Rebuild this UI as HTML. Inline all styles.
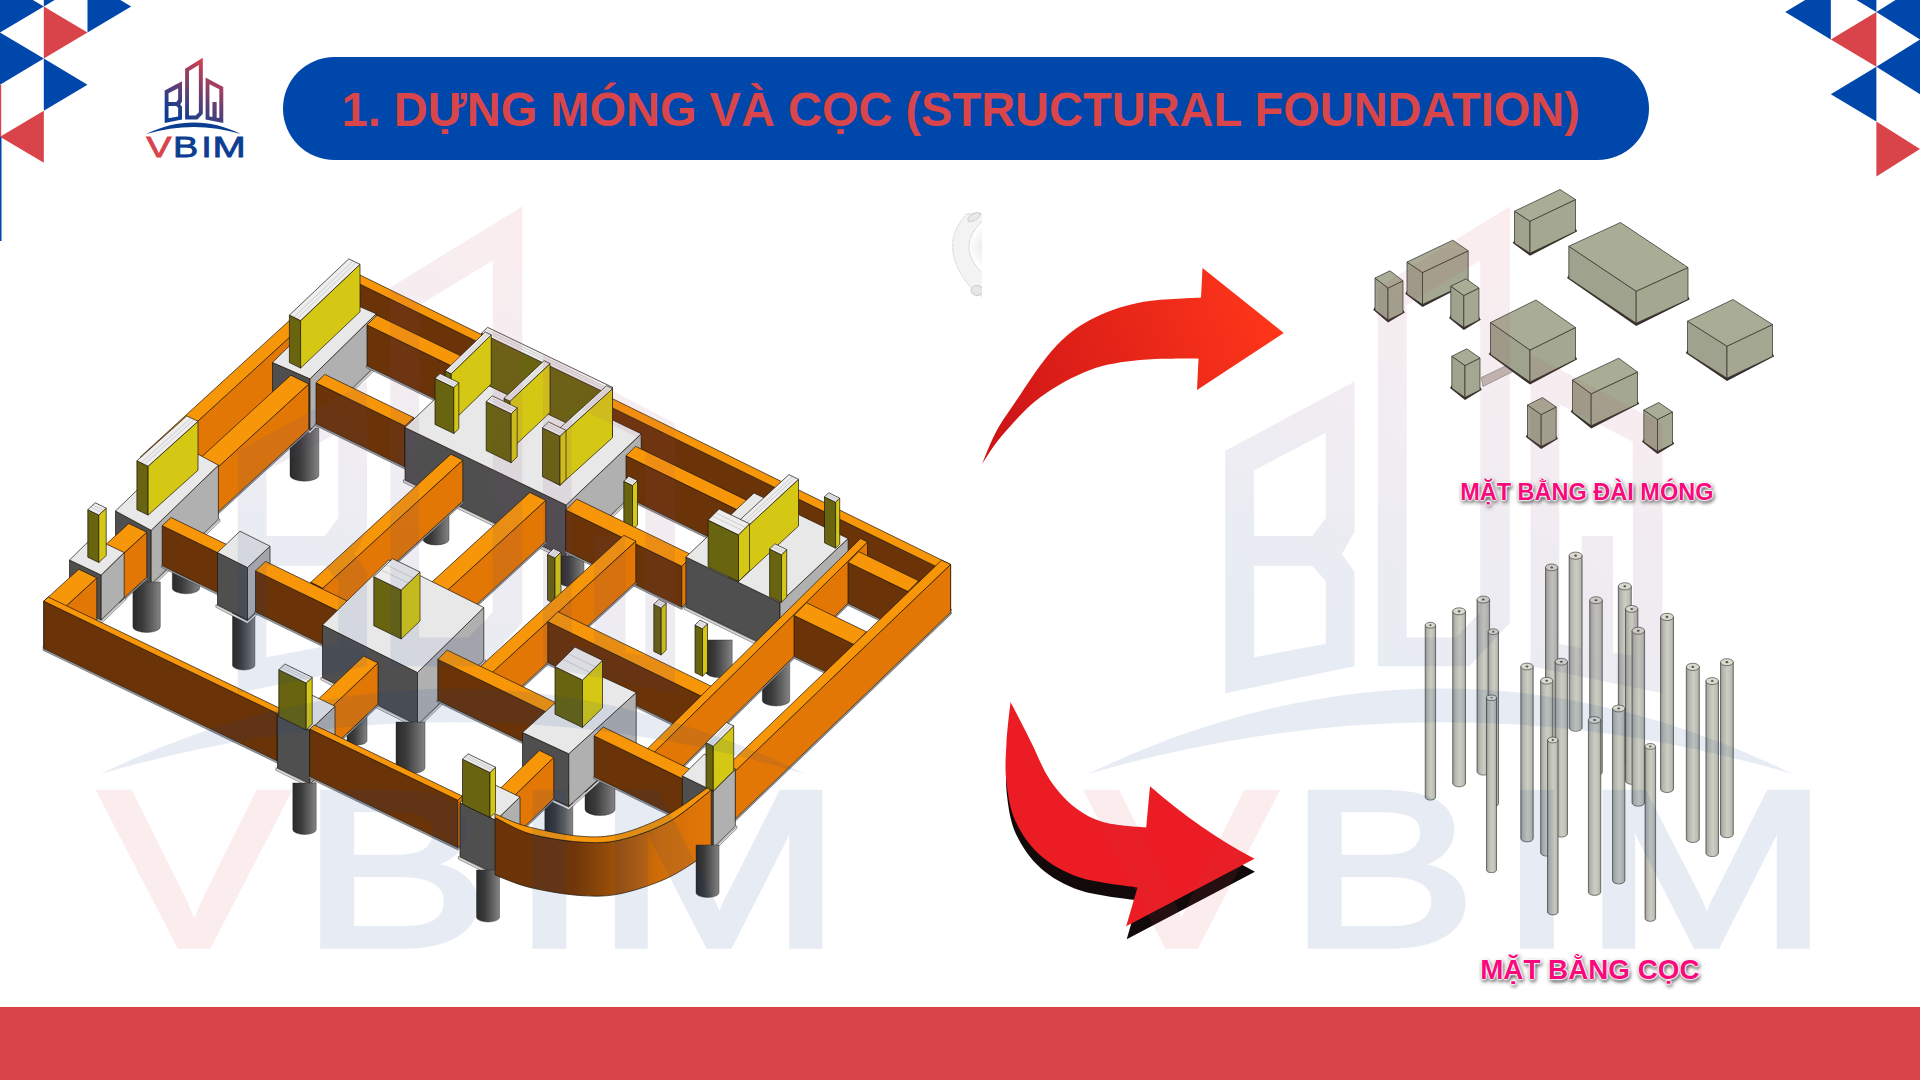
<!DOCTYPE html>
<html lang="vi"><head><meta charset="utf-8"><title>1. DỰNG MÓNG VÀ CỌC (STRUCTURAL FOUNDATION)</title>
<style>
html,body{margin:0;padding:0;background:#fff;}
body{width:1920px;height:1080px;overflow:hidden;position:relative;font-family:"Liberation Sans",sans-serif;}
svg{position:absolute;left:0;top:0;}
.title{position:absolute;left:283px;top:56.5px;width:1366px;height:103px;border-radius:51.5px;background:#0047AB;}
.title span{position:absolute;left:58.6px;top:1.5px;line-height:103px;font-weight:bold;font-size:47px;transform:scaleY(1.03);transform-origin:0 52px;color:#DA454A;white-space:nowrap;}
.footer{position:absolute;left:0;top:1007px;width:1920px;height:73px;background:#D9444A;}
.lbl{position:absolute;font-weight:bold;color:#F80A7C;white-space:nowrap;text-shadow:0 0 1.5px #fff,0 0 1.5px #fff,0 0 2px #fff,0 0 2px #fff,0 0 2.5px #fff,0 0 2.5px #fff,1px 1.5px 4px rgba(0,0,0,.75),1px 1.5px 4px rgba(0,0,0,.5);}
</style></head><body>

<svg width="1920" height="1080" viewBox="0 0 1920 1080">
<polygon points="0.0,-19.6 43.8,6.5 0.0,32.5" fill="#0047AB"/>
<polygon points="43.8,-45.6 87.5,-19.6 43.8,6.5" fill="#0047AB"/>
<polygon points="87.5,-19.6 131.2,6.5 87.5,32.5" fill="#0047AB"/>
<polygon points="43.8,6.5 87.5,32.5 43.8,58.6" fill="#D9444A"/>
<polygon points="0.0,32.5 43.8,58.6 0.0,84.7" fill="#0047AB"/>
<polygon points="43.8,58.6 87.5,84.7 43.8,110.7" fill="#0047AB"/>
<polygon points="43.8,110.7 0.0,136.8 43.8,162.8" fill="#D9444A"/>
<rect x="0" y="84.7" width="1.2" height="52.1" fill="#D9444A"/>
<rect x="0" y="136.8" width="1.5" height="104.2" fill="#0047AB"/>
<polygon points="1830.8,-15.4 1785.2,12.0 1830.8,39.4" fill="#0047AB"/>
<polygon points="1876.4,-42.8 1830.8,-15.4 1876.4,12.0" fill="#0047AB"/>
<polygon points="1920.0,-15.4 1876.4,12.0 1920.0,39.4" fill="#0047AB"/>
<polygon points="1876.4,12.0 1830.8,39.4 1876.4,66.8" fill="#D9444A"/>
<polygon points="1920.0,39.4 1876.4,66.8 1920.0,94.2" fill="#0047AB"/>
<polygon points="1876.4,66.8 1830.8,94.2 1876.4,121.6" fill="#0047AB"/>
<polygon points="1876.4,121.6 1920.0,149.0 1876.4,176.4" fill="#D9444A"/>
<g id="scene3d"><defs><linearGradient id="gpile" x1="0" y1="0" x2="1" y2="0"><stop offset="0" stop-color="#2a2a2a"/><stop offset="0.35" stop-color="#3b3b3b"/><stop offset="0.75" stop-color="#666"/><stop offset="1" stop-color="#858585"/></linearGradient></defs>
<polygon points="140.8,456.5 152.8,462.3 152.8,507.3 140.8,501.5" fill="#6B3408" stroke="#1c1408" stroke-width="0.7" stroke-linejoin="round"/>
<polygon points="152.8,462.3 355.8,276.6 355.8,321.6 152.8,507.3" fill="#E37706" stroke="#1c1408" stroke-width="0.7" stroke-linejoin="round"/>
<polygon points="140.8,456.5 343.8,270.7 355.8,276.6 152.8,462.3" fill="#F8960A" stroke="#1c1408" stroke-width="0.7" stroke-linejoin="round"/>
<polygon points="139.9,501.3 152.8,507.8 356.6,321.4 356.6,323.1 152.8,509.5 139.9,503.0" fill="#A8A8A8" stroke="#2a2a2a" stroke-width="0.45" stroke-linejoin="round"/>
<path d="M290.0 428.0 L290.0 475.2 A14.4 6.0 0 0 0 318.8 475.2 L318.8 428.0Z" fill="url(#gpile)" stroke="#222" stroke-width="0.4"/>
<path d="M423.0 505.0 L423.0 539.5 A13.0 5.5 0 0 0 449.0 539.5 L449.0 505.0Z" fill="url(#gpile)" stroke="#222" stroke-width="0.4"/>
<polygon points="337.2,273.0 944.1,570.4 944.1,615.4 337.2,318.0" fill="#6B3408" stroke="#1c1408" stroke-width="0.7" stroke-linejoin="round"/>
<polygon points="944.1,570.4 950.6,564.4 950.6,609.4 944.1,615.4" fill="#E37706" stroke="#1c1408" stroke-width="0.7" stroke-linejoin="round"/>
<polygon points="337.2,273.0 343.7,267.0 950.6,564.4 944.1,570.4" fill="#F8960A" stroke="#1c1408" stroke-width="0.7" stroke-linejoin="round"/>
<polygon points="336.4,317.8 944.1,615.9 951.4,609.2 951.4,610.9 944.1,617.6 336.4,319.5" fill="#A8A8A8" stroke="#2a2a2a" stroke-width="0.45" stroke-linejoin="round"/>
<polygon points="272.5,362.5 310.0,378.8 310.0,429.8 272.5,413.5" fill="#4F4F4F" stroke="#1c1408" stroke-width="0.7" stroke-linejoin="round"/>
<polygon points="310.0,378.8 376.2,313.8 376.2,364.8 310.0,429.8" fill="#B0B0B0" stroke="#1c1408" stroke-width="0.7" stroke-linejoin="round"/>
<polygon points="272.5,362.5 338.8,297.5 376.2,313.8 310.0,378.8" fill="#E8E8E8" stroke="#1c1408" stroke-width="0.7" stroke-linejoin="round"/>
<polygon points="270.9,413.2 310.0,430.7 377.9,364.4 377.9,367.0 310.0,433.3 270.9,415.8" fill="#DCDCDC" stroke="#2a2a2a" stroke-width="0.45" stroke-linejoin="round"/>
<polygon points="289.4,315.1 300.6,320.6 300.6,368.1 289.4,362.6" fill="#68640F" stroke="#1c1408" stroke-width="0.7" stroke-linejoin="round"/>
<polygon points="300.6,320.6 360.0,264.3 360.0,311.8 300.6,368.1" fill="#D4C815" stroke="#1c1408" stroke-width="0.7" stroke-linejoin="round"/>
<polygon points="289.4,315.1 348.8,258.9 360.0,264.3 300.6,320.6" fill="#EEEEEE" stroke="#1c1408" stroke-width="0.7" stroke-linejoin="round"/>
<line x1="293.6" y1="317.2" x2="353.0" y2="261.0" stroke="#9a9a9a" stroke-width="0.4"/>
<line x1="296.8" y1="318.7" x2="356.2" y2="262.5" stroke="#9a9a9a" stroke-width="0.4"/>
<polygon points="367.0,324.9 462.0,371.0 462.0,412.0 367.0,365.9" fill="#6B3408" stroke="#1c1408" stroke-width="0.7" stroke-linejoin="round"/>
<polygon points="462.0,371.0 472.0,361.3 472.0,402.3 462.0,412.0" fill="#E37706" stroke="#1c1408" stroke-width="0.7" stroke-linejoin="round"/>
<polygon points="367.0,324.9 377.0,315.3 472.0,361.3 462.0,371.0" fill="#F8960A" stroke="#1c1408" stroke-width="0.7" stroke-linejoin="round"/>
<polygon points="366.2,365.8 462.0,412.5 472.8,402.2 472.8,403.9 462.0,414.2 366.2,367.5" fill="#A8A8A8" stroke="#2a2a2a" stroke-width="0.45" stroke-linejoin="round"/>
<polygon points="197.8,460.3 215.8,469.1 215.8,514.1 197.8,505.3" fill="#6B3408" stroke="#1c1408" stroke-width="0.7" stroke-linejoin="round"/>
<polygon points="215.8,469.1 308.8,384.0 308.8,429.0 215.8,514.1" fill="#E37706" stroke="#1c1408" stroke-width="0.7" stroke-linejoin="round"/>
<polygon points="197.8,460.3 290.8,375.2 308.8,384.0 215.8,469.1" fill="#F8960A" stroke="#1c1408" stroke-width="0.7" stroke-linejoin="round"/>
<polygon points="196.9,505.2 215.8,514.6 309.6,428.8 309.6,430.5 215.8,516.3 196.9,506.9" fill="#A8A8A8" stroke="#2a2a2a" stroke-width="0.45" stroke-linejoin="round"/>
<polygon points="316.0,382.8 405.0,426.0 405.0,467.0 316.0,423.8" fill="#6B3408" stroke="#1c1408" stroke-width="0.7" stroke-linejoin="round"/>
<polygon points="405.0,426.0 413.8,417.6 413.8,458.6 405.0,467.0" fill="#E37706" stroke="#1c1408" stroke-width="0.7" stroke-linejoin="round"/>
<polygon points="316.0,382.8 324.8,374.4 413.8,417.6 405.0,426.0" fill="#F8960A" stroke="#1c1408" stroke-width="0.7" stroke-linejoin="round"/>
<polygon points="315.2,423.7 405.0,467.5 414.6,458.5 414.6,460.2 405.0,469.2 315.2,425.4" fill="#A8A8A8" stroke="#2a2a2a" stroke-width="0.45" stroke-linejoin="round"/>
<polygon points="115.5,511.0 151.2,530.3 151.2,584.3 115.5,565.0" fill="#4F4F4F" stroke="#1c1408" stroke-width="0.7" stroke-linejoin="round"/>
<polygon points="151.2,530.3 218.4,465.2 218.4,519.2 151.2,584.3" fill="#B0B0B0" stroke="#1c1408" stroke-width="0.7" stroke-linejoin="round"/>
<polygon points="115.5,511.0 182.7,445.9 218.4,465.2 151.2,530.3" fill="#E8E8E8" stroke="#1c1408" stroke-width="0.7" stroke-linejoin="round"/>
<polygon points="113.9,564.7 151.2,585.3 220.0,518.9 220.0,521.5 151.2,587.9 113.9,567.3" fill="#DCDCDC" stroke="#2a2a2a" stroke-width="0.45" stroke-linejoin="round"/>
<path d="M172.3 560.0 L172.3 588.0 A13.7 5.8 0 0 0 199.7 588.0 L199.7 560.0Z" fill="url(#gpile)" stroke="#222" stroke-width="0.4"/>
<polygon points="405.0,427.5 566.2,505.0 566.2,557.5 405.0,480.0" fill="#4F4F4F" stroke="#1c1408" stroke-width="0.7" stroke-linejoin="round"/>
<polygon points="566.2,505.0 641.2,433.8 641.2,486.2 566.2,557.5" fill="#B0B0B0" stroke="#1c1408" stroke-width="0.7" stroke-linejoin="round"/>
<polygon points="405.0,427.5 480.0,356.2 641.2,433.8 566.2,505.0" fill="#E8E8E8" stroke="#1c1408" stroke-width="0.7" stroke-linejoin="round"/>
<polygon points="403.4,479.7 566.2,558.5 642.9,485.9 642.9,488.5 566.2,561.1 403.4,482.3" fill="#DCDCDC" stroke="#2a2a2a" stroke-width="0.45" stroke-linejoin="round"/>
<polygon points="136.9,460.8 148.1,466.2 148.1,515.1 136.9,509.7" fill="#68640F" stroke="#1c1408" stroke-width="0.7" stroke-linejoin="round"/>
<polygon points="148.1,466.2 198.0,421.3 198.0,470.2 148.1,515.1" fill="#D4C815" stroke="#1c1408" stroke-width="0.7" stroke-linejoin="round"/>
<polygon points="136.9,460.8 186.8,415.9 198.0,421.3 148.1,466.2" fill="#EEEEEE" stroke="#1c1408" stroke-width="0.7" stroke-linejoin="round"/>
<line x1="141.2" y1="462.8" x2="191.1" y2="417.9" stroke="#9a9a9a" stroke-width="0.4"/>
<line x1="144.3" y1="464.4" x2="194.2" y2="419.4" stroke="#9a9a9a" stroke-width="0.4"/>
<polygon points="481.5,333.2 606.5,393.2 606.5,442.2 481.5,382.2" fill="#68640F" stroke="#1c1408" stroke-width="0.7" stroke-linejoin="round"/>
<polygon points="606.5,393.2 612.5,387.3 612.5,436.3 606.5,442.2" fill="#D4C815" stroke="#1c1408" stroke-width="0.7" stroke-linejoin="round"/>
<polygon points="481.5,333.2 487.5,327.3 612.5,387.3 606.5,393.2" fill="#EEEEEE" stroke="#1c1408" stroke-width="0.7" stroke-linejoin="round"/>
<line x1="483.8" y1="331.0" x2="608.8" y2="391.0" stroke="#9a9a9a" stroke-width="0.4"/>
<line x1="485.5" y1="329.3" x2="610.5" y2="389.3" stroke="#9a9a9a" stroke-width="0.4"/>
<polygon points="445.2,370.8 451.2,373.8 451.2,422.8 445.2,419.8" fill="#68640F" stroke="#1c1408" stroke-width="0.7" stroke-linejoin="round"/>
<polygon points="451.2,373.8 491.2,334.9 491.2,383.9 451.2,422.8" fill="#D4C815" stroke="#1c1408" stroke-width="0.7" stroke-linejoin="round"/>
<polygon points="445.2,370.8 485.2,332.0 491.2,334.9 451.2,373.8" fill="#EEEEEE" stroke="#1c1408" stroke-width="0.7" stroke-linejoin="round"/>
<line x1="447.5" y1="371.9" x2="487.5" y2="333.1" stroke="#9a9a9a" stroke-width="0.4"/>
<line x1="449.2" y1="372.8" x2="489.2" y2="334.0" stroke="#9a9a9a" stroke-width="0.4"/>
<polygon points="435.0,378.4 453.8,387.5 453.8,433.5 435.0,424.4" fill="#68640F" stroke="#1c1408" stroke-width="0.7" stroke-linejoin="round"/>
<polygon points="453.8,387.5 458.8,382.7 458.8,428.7 453.8,433.5" fill="#D4C815" stroke="#1c1408" stroke-width="0.7" stroke-linejoin="round"/>
<polygon points="435.0,378.4 440.0,373.6 458.8,382.7 453.8,387.5" fill="#EEEEEE" stroke="#1c1408" stroke-width="0.7" stroke-linejoin="round"/>
<line x1="436.9" y1="376.6" x2="455.6" y2="385.7" stroke="#9a9a9a" stroke-width="0.4"/>
<line x1="438.3" y1="375.2" x2="457.1" y2="384.3" stroke="#9a9a9a" stroke-width="0.4"/>
<path d="M132.9 582.0 L132.9 626.7 A13.7 5.8 0 0 0 160.3 626.7 L160.3 582.0Z" fill="url(#gpile)" stroke="#222" stroke-width="0.4"/>
<polygon points="504.0,398.3 510.0,401.2 510.0,450.2 504.0,447.3" fill="#68640F" stroke="#1c1408" stroke-width="0.7" stroke-linejoin="round"/>
<polygon points="510.0,401.2 550.0,363.6 550.0,412.6 510.0,450.2" fill="#D4C815" stroke="#1c1408" stroke-width="0.7" stroke-linejoin="round"/>
<polygon points="504.0,398.3 544.0,360.7 550.0,363.6 510.0,401.2" fill="#EEEEEE" stroke="#1c1408" stroke-width="0.7" stroke-linejoin="round"/>
<line x1="506.3" y1="399.4" x2="546.3" y2="361.8" stroke="#9a9a9a" stroke-width="0.4"/>
<line x1="508.0" y1="400.3" x2="548.0" y2="362.7" stroke="#9a9a9a" stroke-width="0.4"/>
<polygon points="102.8,547.3 120.8,556.0 120.8,601.0 102.8,592.3" fill="#6B3408" stroke="#1c1408" stroke-width="0.7" stroke-linejoin="round"/>
<polygon points="120.8,556.0 146.8,532.2 146.8,577.2 120.8,601.0" fill="#E37706" stroke="#1c1408" stroke-width="0.7" stroke-linejoin="round"/>
<polygon points="102.8,547.3 128.8,523.5 146.8,532.2 120.8,556.0" fill="#F8960A" stroke="#1c1408" stroke-width="0.7" stroke-linejoin="round"/>
<polygon points="102.0,592.1 120.8,601.5 147.6,577.0 147.6,578.7 120.8,603.2 102.0,593.8" fill="#A8A8A8" stroke="#2a2a2a" stroke-width="0.45" stroke-linejoin="round"/>
<polygon points="162.2,525.7 223.2,555.3 223.2,595.3 162.2,565.7" fill="#6B3408" stroke="#1c1408" stroke-width="0.7" stroke-linejoin="round"/>
<polygon points="223.2,555.3 232.0,547.1 232.0,587.1 223.2,595.3" fill="#E37706" stroke="#1c1408" stroke-width="0.7" stroke-linejoin="round"/>
<polygon points="162.2,525.7 171.0,517.5 232.0,547.1 223.2,555.3" fill="#F8960A" stroke="#1c1408" stroke-width="0.7" stroke-linejoin="round"/>
<polygon points="161.4,565.6 223.2,595.8 232.8,586.9 232.8,588.6 223.2,597.5 161.4,567.3" fill="#A8A8A8" stroke="#2a2a2a" stroke-width="0.45" stroke-linejoin="round"/>
<polygon points="69.5,560.0 101.2,575.0 101.2,620.0 69.5,605.0" fill="#4F4F4F" stroke="#1c1408" stroke-width="0.7" stroke-linejoin="round"/>
<polygon points="101.2,575.0 124.2,552.5 124.2,597.5 101.2,620.0" fill="#B0B0B0" stroke="#1c1408" stroke-width="0.7" stroke-linejoin="round"/>
<polygon points="69.5,560.0 92.5,537.5 124.2,552.5 101.2,575.0" fill="#E8E8E8" stroke="#1c1408" stroke-width="0.7" stroke-linejoin="round"/>
<polygon points="67.9,604.7 101.2,621.0 125.8,597.2 125.8,599.8 101.2,623.6 67.9,607.3" fill="#DCDCDC" stroke="#2a2a2a" stroke-width="0.45" stroke-linejoin="round"/>
<polygon points="486.2,401.6 511.2,413.8 511.2,462.8 486.2,450.6" fill="#68640F" stroke="#1c1408" stroke-width="0.7" stroke-linejoin="round"/>
<polygon points="511.2,413.8 517.2,407.9 517.2,456.9 511.2,462.8" fill="#D4C815" stroke="#1c1408" stroke-width="0.7" stroke-linejoin="round"/>
<polygon points="486.2,401.6 492.2,395.8 517.2,407.9 511.2,413.8" fill="#EEEEEE" stroke="#1c1408" stroke-width="0.7" stroke-linejoin="round"/>
<line x1="488.5" y1="399.4" x2="513.5" y2="411.5" stroke="#9a9a9a" stroke-width="0.4"/>
<line x1="490.2" y1="397.8" x2="515.2" y2="409.9" stroke="#9a9a9a" stroke-width="0.4"/>
<polygon points="87.8,509.7 98.8,515.0 98.8,562.5 87.8,557.2" fill="#68640F" stroke="#1c1408" stroke-width="0.7" stroke-linejoin="round"/>
<polygon points="98.8,515.0 106.2,508.1 106.2,555.6 98.8,562.5" fill="#D4C815" stroke="#1c1408" stroke-width="0.7" stroke-linejoin="round"/>
<polygon points="87.8,509.7 95.2,502.8 106.2,508.1 98.8,515.0" fill="#EEEEEE" stroke="#1c1408" stroke-width="0.7" stroke-linejoin="round"/>
<line x1="90.6" y1="507.0" x2="101.6" y2="512.4" stroke="#9a9a9a" stroke-width="0.4"/>
<line x1="92.7" y1="505.1" x2="103.7" y2="510.4" stroke="#9a9a9a" stroke-width="0.4"/>
<path d="M232.5 612.0 L232.5 665.3 A11.2 4.7 0 0 0 254.9 665.3 L254.9 612.0Z" fill="url(#gpile)" stroke="#222" stroke-width="0.4"/>
<polygon points="43.8,601.2 61.8,610.0 61.8,655.0 43.8,646.2" fill="#6B3408" stroke="#1c1408" stroke-width="0.7" stroke-linejoin="round"/>
<polygon points="61.8,610.0 96.8,578.0 96.8,623.0 61.8,655.0" fill="#E37706" stroke="#1c1408" stroke-width="0.7" stroke-linejoin="round"/>
<polygon points="43.8,601.2 78.8,569.2 96.8,578.0 61.8,610.0" fill="#F8960A" stroke="#1c1408" stroke-width="0.7" stroke-linejoin="round"/>
<polygon points="43.0,646.1 61.8,655.5 97.5,622.8 97.5,624.5 61.8,657.2 43.0,647.8" fill="#A8A8A8" stroke="#2a2a2a" stroke-width="0.45" stroke-linejoin="round"/>
<polygon points="310.8,582.3 322.8,588.2 322.8,629.2 310.8,623.3" fill="#6B3408" stroke="#1c1408" stroke-width="0.7" stroke-linejoin="round"/>
<polygon points="322.8,588.2 462.8,460.1 462.8,501.1 322.8,629.2" fill="#E37706" stroke="#1c1408" stroke-width="0.7" stroke-linejoin="round"/>
<polygon points="310.8,582.3 450.8,454.2 462.8,460.1 322.8,588.2" fill="#F8960A" stroke="#1c1408" stroke-width="0.7" stroke-linejoin="round"/>
<polygon points="309.9,623.2 322.8,629.6 463.6,500.9 463.6,502.6 322.8,631.3 309.9,624.9" fill="#A8A8A8" stroke="#2a2a2a" stroke-width="0.45" stroke-linejoin="round"/>
<polygon points="554.0,433.3 560.0,436.2 560.0,485.2 554.0,482.3" fill="#68640F" stroke="#1c1408" stroke-width="0.7" stroke-linejoin="round"/>
<polygon points="560.0,436.2 612.5,388.7 612.5,437.7 560.0,485.2" fill="#D4C815" stroke="#1c1408" stroke-width="0.7" stroke-linejoin="round"/>
<polygon points="554.0,433.3 606.5,385.8 612.5,388.7 560.0,436.2" fill="#EEEEEE" stroke="#1c1408" stroke-width="0.7" stroke-linejoin="round"/>
<line x1="556.3" y1="434.4" x2="608.8" y2="386.9" stroke="#9a9a9a" stroke-width="0.4"/>
<line x1="558.0" y1="435.3" x2="610.5" y2="387.7" stroke="#9a9a9a" stroke-width="0.4"/>
<polygon points="217.5,552.5 247.5,567.5 247.5,620.0 217.5,605.0" fill="#4F4F4F" stroke="#1c1408" stroke-width="0.7" stroke-linejoin="round"/>
<polygon points="247.5,567.5 270.0,546.2 270.0,598.8 247.5,620.0" fill="#B0B0B0" stroke="#1c1408" stroke-width="0.7" stroke-linejoin="round"/>
<polygon points="217.5,552.5 240.0,531.2 270.0,546.2 247.5,567.5" fill="#E8E8E8" stroke="#1c1408" stroke-width="0.7" stroke-linejoin="round"/>
<polygon points="215.9,604.7 247.5,621.0 271.6,598.4 271.6,601.0 247.5,623.6 215.9,607.3" fill="#DCDCDC" stroke="#2a2a2a" stroke-width="0.45" stroke-linejoin="round"/>
<path d="M560.0 556.0 L560.0 582.0 A12.0 5.0 0 0 0 584.0 582.0 L584.0 556.0Z" fill="url(#gpile)" stroke="#222" stroke-width="0.4"/>
<polygon points="542.5,427.8 560.0,436.2 560.0,485.2 542.5,476.8" fill="#68640F" stroke="#1c1408" stroke-width="0.7" stroke-linejoin="round"/>
<polygon points="560.0,436.2 566.0,430.4 566.0,479.4 560.0,485.2" fill="#D4C815" stroke="#1c1408" stroke-width="0.7" stroke-linejoin="round"/>
<polygon points="542.5,427.8 548.5,421.9 566.0,430.4 560.0,436.2" fill="#EEEEEE" stroke="#1c1408" stroke-width="0.7" stroke-linejoin="round"/>
<line x1="544.8" y1="425.5" x2="562.3" y2="434.0" stroke="#9a9a9a" stroke-width="0.4"/>
<line x1="546.5" y1="423.9" x2="564.0" y2="432.4" stroke="#9a9a9a" stroke-width="0.4"/>
<polygon points="626.0,455.8 781.0,531.0 781.0,572.0 626.0,496.8" fill="#6B3408" stroke="#1c1408" stroke-width="0.7" stroke-linejoin="round"/>
<polygon points="781.0,531.0 790.5,521.5 790.5,562.5 781.0,572.0" fill="#E37706" stroke="#1c1408" stroke-width="0.7" stroke-linejoin="round"/>
<polygon points="626.0,455.8 635.5,446.3 790.5,521.5 781.0,531.0" fill="#F8960A" stroke="#1c1408" stroke-width="0.7" stroke-linejoin="round"/>
<polygon points="625.2,496.7 781.0,572.5 791.3,562.3 791.3,564.0 781.0,574.2 625.2,498.4" fill="#A8A8A8" stroke="#2a2a2a" stroke-width="0.45" stroke-linejoin="round"/>
<polygon points="623.8,481.3 632.5,485.5 632.5,530.0 623.8,525.8" fill="#68640F" stroke="#1c1408" stroke-width="0.7" stroke-linejoin="round"/>
<polygon points="632.5,485.5 637.5,480.6 637.5,525.1 632.5,530.0" fill="#D4C815" stroke="#1c1408" stroke-width="0.7" stroke-linejoin="round"/>
<polygon points="623.8,481.3 628.8,476.3 637.5,480.6 632.5,485.5" fill="#EEEEEE" stroke="#1c1408" stroke-width="0.7" stroke-linejoin="round"/>
<line x1="625.6" y1="479.4" x2="634.4" y2="483.6" stroke="#9a9a9a" stroke-width="0.4"/>
<line x1="627.0" y1="478.0" x2="635.8" y2="482.2" stroke="#9a9a9a" stroke-width="0.4"/>
<polygon points="427.8,585.8 443.8,593.6 443.8,634.6 427.8,626.8" fill="#6B3408" stroke="#1c1408" stroke-width="0.7" stroke-linejoin="round"/>
<polygon points="443.8,593.6 545.8,500.3 545.8,541.3 443.8,634.6" fill="#E37706" stroke="#1c1408" stroke-width="0.7" stroke-linejoin="round"/>
<polygon points="427.8,585.8 529.8,492.5 545.8,500.3 443.8,593.6" fill="#F8960A" stroke="#1c1408" stroke-width="0.7" stroke-linejoin="round"/>
<polygon points="426.9,626.7 443.8,635.1 546.5,541.1 546.5,542.8 443.8,636.8 426.9,628.4" fill="#A8A8A8" stroke="#2a2a2a" stroke-width="0.45" stroke-linejoin="round"/>
<polygon points="255.5,570.9 341.5,612.6 341.5,653.6 255.5,611.9" fill="#6B3408" stroke="#1c1408" stroke-width="0.7" stroke-linejoin="round"/>
<polygon points="341.5,612.6 351.5,603.1 351.5,644.1 341.5,653.6" fill="#E37706" stroke="#1c1408" stroke-width="0.7" stroke-linejoin="round"/>
<polygon points="255.5,570.9 265.5,561.4 351.5,603.1 341.5,612.6" fill="#F8960A" stroke="#1c1408" stroke-width="0.7" stroke-linejoin="round"/>
<polygon points="254.7,611.7 341.5,654.1 352.3,643.9 352.3,645.6 341.5,655.8 254.7,613.4" fill="#A8A8A8" stroke="#2a2a2a" stroke-width="0.45" stroke-linejoin="round"/>
<polygon points="565.8,510.0 681.8,566.3 681.8,607.3 565.8,551.0" fill="#6B3408" stroke="#1c1408" stroke-width="0.7" stroke-linejoin="round"/>
<polygon points="681.8,566.3 692.8,555.4 692.8,596.4 681.8,607.3" fill="#E37706" stroke="#1c1408" stroke-width="0.7" stroke-linejoin="round"/>
<polygon points="565.8,510.0 576.8,499.1 692.8,555.4 681.8,566.3" fill="#F8960A" stroke="#1c1408" stroke-width="0.7" stroke-linejoin="round"/>
<polygon points="565.0,550.9 681.8,607.8 693.5,596.2 693.5,597.9 681.8,609.5 565.0,552.6" fill="#A8A8A8" stroke="#2a2a2a" stroke-width="0.45" stroke-linejoin="round"/>
<polygon points="547.5,554.4 555.0,558.0 555.0,603.7 547.5,600.1" fill="#68640F" stroke="#1c1408" stroke-width="0.7" stroke-linejoin="round"/>
<polygon points="555.0,558.0 561.0,552.1 561.0,597.8 555.0,603.7" fill="#D4C815" stroke="#1c1408" stroke-width="0.7" stroke-linejoin="round"/>
<polygon points="547.5,554.4 553.5,548.5 561.0,552.1 555.0,558.0" fill="#EEEEEE" stroke="#1c1408" stroke-width="0.7" stroke-linejoin="round"/>
<line x1="550.4" y1="555.7" x2="556.4" y2="549.9" stroke="#9a9a9a" stroke-width="0.4"/>
<line x1="552.5" y1="556.8" x2="558.5" y2="550.9" stroke="#9a9a9a" stroke-width="0.4"/>
<polygon points="43.8,601.2 277.2,713.4 277.2,760.9 43.8,648.8" fill="#6B3408" stroke="#1c1408" stroke-width="0.7" stroke-linejoin="round"/>
<polygon points="277.2,713.4 281.8,709.2 281.8,756.7 277.2,760.9" fill="#E37706" stroke="#1c1408" stroke-width="0.7" stroke-linejoin="round"/>
<polygon points="43.8,601.2 48.2,597.0 281.8,709.2 277.2,713.4" fill="#F8960A" stroke="#1c1408" stroke-width="0.7" stroke-linejoin="round"/>
<polygon points="43.0,648.6 277.2,761.4 282.6,756.6 282.6,758.3 277.2,763.1 43.0,650.3" fill="#A8A8A8" stroke="#2a2a2a" stroke-width="0.45" stroke-linejoin="round"/>
<path d="M347.0 690.0 L347.0 740.8 A10.0 4.2 0 0 0 367.0 740.8 L367.0 690.0Z" fill="url(#gpile)" stroke="#222" stroke-width="0.4"/>
<polygon points="322.5,625.0 417.5,672.5 417.5,725.0 322.5,677.5" fill="#4F4F4F" stroke="#1c1408" stroke-width="0.7" stroke-linejoin="round"/>
<polygon points="417.5,672.5 483.8,607.5 483.8,660.0 417.5,725.0" fill="#B0B0B0" stroke="#1c1408" stroke-width="0.7" stroke-linejoin="round"/>
<polygon points="322.5,625.0 388.8,560.0 483.8,607.5 417.5,672.5" fill="#E8E8E8" stroke="#1c1408" stroke-width="0.7" stroke-linejoin="round"/>
<polygon points="320.9,677.2 417.5,726.0 485.4,659.7 485.4,662.3 417.5,728.6 320.9,679.8" fill="#DCDCDC" stroke="#2a2a2a" stroke-width="0.45" stroke-linejoin="round"/>
<polygon points="479.8,667.1 491.8,672.9 491.8,713.9 479.8,708.1" fill="#6B3408" stroke="#1c1408" stroke-width="0.7" stroke-linejoin="round"/>
<polygon points="491.8,672.9 635.8,541.1 635.8,582.1 491.8,713.9" fill="#E37706" stroke="#1c1408" stroke-width="0.7" stroke-linejoin="round"/>
<polygon points="479.8,667.1 623.8,535.3 635.8,541.1 491.8,672.9" fill="#F8960A" stroke="#1c1408" stroke-width="0.7" stroke-linejoin="round"/>
<polygon points="478.9,707.9 491.8,714.4 636.5,582.0 636.5,583.7 491.8,716.1 478.9,709.6" fill="#A8A8A8" stroke="#2a2a2a" stroke-width="0.45" stroke-linejoin="round"/>
<polygon points="373.8,576.7 401.2,590.0 401.2,639.0 373.8,625.7" fill="#68640F" stroke="#1c1408" stroke-width="0.7" stroke-linejoin="round"/>
<polygon points="401.2,590.0 420.0,572.0 420.0,621.0 401.2,639.0" fill="#D4C815" stroke="#1c1408" stroke-width="0.7" stroke-linejoin="round"/>
<polygon points="373.8,576.7 392.5,558.7 420.0,572.0 401.2,590.0" fill="#EEEEEE" stroke="#1c1408" stroke-width="0.7" stroke-linejoin="round"/>
<line x1="380.9" y1="569.8" x2="408.4" y2="583.2" stroke="#9a9a9a" stroke-width="0.4"/>
<line x1="386.1" y1="564.8" x2="413.6" y2="578.1" stroke="#9a9a9a" stroke-width="0.4"/>
<path d="M705.8 640.0 L705.8 672.0 A13.2 5.5 0 0 0 732.2 672.0 L732.2 640.0Z" fill="url(#gpile)" stroke="#222" stroke-width="0.4"/>
<polygon points="653.8,604.4 661.2,608.0 661.2,655.0 653.8,651.4" fill="#68640F" stroke="#1c1408" stroke-width="0.7" stroke-linejoin="round"/>
<polygon points="661.2,608.0 666.2,603.1 666.2,650.1 661.2,655.0" fill="#D4C815" stroke="#1c1408" stroke-width="0.7" stroke-linejoin="round"/>
<polygon points="653.8,604.4 658.8,599.4 666.2,603.1 661.2,608.0" fill="#EEEEEE" stroke="#1c1408" stroke-width="0.7" stroke-linejoin="round"/>
<line x1="655.6" y1="602.5" x2="663.1" y2="606.1" stroke="#9a9a9a" stroke-width="0.4"/>
<line x1="657.0" y1="601.1" x2="664.5" y2="604.7" stroke="#9a9a9a" stroke-width="0.4"/>
<path d="M396.0 722.0 L396.0 767.7 A14.5 6.1 0 0 0 425.0 767.7 L425.0 722.0Z" fill="url(#gpile)" stroke="#222" stroke-width="0.4"/>
<path d="M762.3 650.0 L762.3 700.2 A13.7 5.8 0 0 0 789.7 700.2 L789.7 650.0Z" fill="url(#gpile)" stroke="#222" stroke-width="0.4"/>
<polygon points="685.9,557.0 780.0,602.5 780.0,652.5 685.9,607.0" fill="#4F4F4F" stroke="#1c1408" stroke-width="0.7" stroke-linejoin="round"/>
<polygon points="780.0,602.5 848.1,538.5 848.1,588.5 780.0,652.5" fill="#B0B0B0" stroke="#1c1408" stroke-width="0.7" stroke-linejoin="round"/>
<polygon points="685.9,557.0 754.0,493.0 848.1,538.5 780.0,602.5" fill="#E8E8E8" stroke="#1c1408" stroke-width="0.7" stroke-linejoin="round"/>
<polygon points="684.3,606.7 780.0,653.5 849.7,588.2 849.7,590.8 780.0,656.1 684.3,609.3" fill="#DCDCDC" stroke="#2a2a2a" stroke-width="0.45" stroke-linejoin="round"/>
<polygon points="728.9,530.1 738.5,534.8 738.5,581.5 728.9,576.8" fill="#68640F" stroke="#1c1408" stroke-width="0.7" stroke-linejoin="round"/>
<polygon points="738.5,534.8 798.5,479.3 798.5,526.0 738.5,581.5" fill="#D4C815" stroke="#1c1408" stroke-width="0.7" stroke-linejoin="round"/>
<polygon points="728.9,530.1 788.9,474.6 798.5,479.3 738.5,534.8" fill="#EEEEEE" stroke="#1c1408" stroke-width="0.7" stroke-linejoin="round"/>
<line x1="732.5" y1="531.9" x2="792.5" y2="476.4" stroke="#9a9a9a" stroke-width="0.4"/>
<line x1="735.2" y1="533.2" x2="795.2" y2="477.7" stroke="#9a9a9a" stroke-width="0.4"/>
<polygon points="824.5,496.8 835.6,502.2 835.6,548.2 824.5,542.8" fill="#68640F" stroke="#1c1408" stroke-width="0.7" stroke-linejoin="round"/>
<polygon points="835.6,502.2 839.7,498.1 839.7,544.1 835.6,548.2" fill="#D4C815" stroke="#1c1408" stroke-width="0.7" stroke-linejoin="round"/>
<polygon points="824.5,496.8 828.6,492.7 839.7,498.1 835.6,502.2" fill="#EEEEEE" stroke="#1c1408" stroke-width="0.7" stroke-linejoin="round"/>
<line x1="826.1" y1="495.2" x2="837.2" y2="500.6" stroke="#9a9a9a" stroke-width="0.4"/>
<line x1="827.2" y1="494.1" x2="838.3" y2="499.5" stroke="#9a9a9a" stroke-width="0.4"/>
<polygon points="708.1,520.1 738.5,534.8 738.5,581.5 708.1,566.8" fill="#68640F" stroke="#1c1408" stroke-width="0.7" stroke-linejoin="round"/>
<polygon points="738.5,534.8 749.5,523.8 749.5,570.5 738.5,581.5" fill="#D4C815" stroke="#1c1408" stroke-width="0.7" stroke-linejoin="round"/>
<polygon points="708.1,520.1 719.1,509.1 749.5,523.8 738.5,534.8" fill="#EEEEEE" stroke="#1c1408" stroke-width="0.7" stroke-linejoin="round"/>
<line x1="712.3" y1="515.9" x2="742.7" y2="530.6" stroke="#9a9a9a" stroke-width="0.4"/>
<line x1="715.4" y1="512.8" x2="745.8" y2="527.6" stroke="#9a9a9a" stroke-width="0.4"/>
<polygon points="318.2,699.3 332.5,706.2 332.5,747.2 318.2,740.3" fill="#6B3408" stroke="#1c1408" stroke-width="0.7" stroke-linejoin="round"/>
<polygon points="332.5,706.2 378.0,663.0 378.0,704.0 332.5,747.2" fill="#E37706" stroke="#1c1408" stroke-width="0.7" stroke-linejoin="round"/>
<polygon points="318.2,699.3 363.7,656.1 378.0,663.0 332.5,706.2" fill="#F8960A" stroke="#1c1408" stroke-width="0.7" stroke-linejoin="round"/>
<polygon points="317.4,740.2 332.5,747.7 378.8,703.9 378.8,705.6 332.5,749.4 317.4,741.9" fill="#A8A8A8" stroke="#2a2a2a" stroke-width="0.45" stroke-linejoin="round"/>
<polygon points="695.0,625.1 702.5,628.8 702.5,676.2 695.0,672.6" fill="#68640F" stroke="#1c1408" stroke-width="0.7" stroke-linejoin="round"/>
<polygon points="702.5,628.8 707.5,623.8 707.5,671.3 702.5,676.2" fill="#D4C815" stroke="#1c1408" stroke-width="0.7" stroke-linejoin="round"/>
<polygon points="695.0,625.1 700.0,620.1 707.5,623.8 702.5,628.8" fill="#EEEEEE" stroke="#1c1408" stroke-width="0.7" stroke-linejoin="round"/>
<line x1="696.9" y1="623.2" x2="704.4" y2="626.9" stroke="#9a9a9a" stroke-width="0.4"/>
<line x1="698.3" y1="621.8" x2="705.8" y2="625.5" stroke="#9a9a9a" stroke-width="0.4"/>
<polygon points="277.5,714.2 310.0,730.0 310.0,783.8 277.5,768.0" fill="#4F4F4F" stroke="#1c1408" stroke-width="0.7" stroke-linejoin="round"/>
<polygon points="310.0,730.0 335.0,706.3 335.0,760.1 310.0,783.8" fill="#B0B0B0" stroke="#1c1408" stroke-width="0.7" stroke-linejoin="round"/>
<polygon points="277.5,714.2 302.5,690.6 335.0,706.3 310.0,730.0" fill="#E8E8E8" stroke="#1c1408" stroke-width="0.7" stroke-linejoin="round"/>
<polygon points="275.9,767.7 310.0,784.7 336.6,759.8 336.6,762.4 310.0,787.3 275.9,770.3" fill="#DCDCDC" stroke="#2a2a2a" stroke-width="0.45" stroke-linejoin="round"/>
<path d="M292.8 783.0 L292.8 829.6 A11.7 4.9 0 0 0 316.2 829.6 L316.2 783.0Z" fill="url(#gpile)" stroke="#222" stroke-width="0.4"/>
<polygon points="547.8,621.7 705.8,698.3 705.8,739.3 547.8,662.7" fill="#6B3408" stroke="#1c1408" stroke-width="0.7" stroke-linejoin="round"/>
<polygon points="705.8,698.3 715.8,688.4 715.8,729.4 705.8,739.3" fill="#E37706" stroke="#1c1408" stroke-width="0.7" stroke-linejoin="round"/>
<polygon points="547.8,621.7 557.8,611.7 715.8,688.4 705.8,698.3" fill="#F8960A" stroke="#1c1408" stroke-width="0.7" stroke-linejoin="round"/>
<polygon points="547.0,662.5 705.8,739.8 716.5,729.2 716.5,730.9 705.8,741.5 547.0,664.2" fill="#A8A8A8" stroke="#2a2a2a" stroke-width="0.45" stroke-linejoin="round"/>
<polygon points="769.6,549.0 781.5,554.8 781.5,602.3 769.6,596.5" fill="#68640F" stroke="#1c1408" stroke-width="0.7" stroke-linejoin="round"/>
<polygon points="781.5,554.8 786.7,549.6 786.7,597.1 781.5,602.3" fill="#D4C815" stroke="#1c1408" stroke-width="0.7" stroke-linejoin="round"/>
<polygon points="769.6,549.0 774.8,543.8 786.7,549.6 781.5,554.8" fill="#EEEEEE" stroke="#1c1408" stroke-width="0.7" stroke-linejoin="round"/>
<line x1="771.6" y1="547.0" x2="783.5" y2="552.8" stroke="#9a9a9a" stroke-width="0.4"/>
<line x1="773.0" y1="545.6" x2="784.9" y2="551.4" stroke="#9a9a9a" stroke-width="0.4"/>
<polygon points="437.8,659.4 548.8,713.2 548.8,754.2 437.8,700.4" fill="#6B3408" stroke="#1c1408" stroke-width="0.7" stroke-linejoin="round"/>
<polygon points="548.8,713.2 558.2,703.9 558.2,744.9 548.8,754.2" fill="#E37706" stroke="#1c1408" stroke-width="0.7" stroke-linejoin="round"/>
<polygon points="437.8,659.4 447.2,650.1 558.2,703.9 548.8,713.2" fill="#F8960A" stroke="#1c1408" stroke-width="0.7" stroke-linejoin="round"/>
<polygon points="436.9,700.2 548.8,754.7 559.0,744.8 559.0,746.5 548.8,756.4 436.9,701.9" fill="#A8A8A8" stroke="#2a2a2a" stroke-width="0.45" stroke-linejoin="round"/>
<polygon points="278.8,669.7 306.2,683.0 306.2,730.0 278.8,716.7" fill="#68640F" stroke="#1c1408" stroke-width="0.7" stroke-linejoin="round"/>
<polygon points="306.2,683.0 312.2,677.3 312.2,724.3 306.2,730.0" fill="#D4C815" stroke="#1c1408" stroke-width="0.7" stroke-linejoin="round"/>
<polygon points="278.8,669.7 284.8,664.0 312.2,677.3 306.2,683.0" fill="#EEEEEE" stroke="#1c1408" stroke-width="0.7" stroke-linejoin="round"/>
<line x1="281.0" y1="667.5" x2="308.5" y2="680.8" stroke="#9a9a9a" stroke-width="0.4"/>
<line x1="282.7" y1="665.9" x2="310.2" y2="679.3" stroke="#9a9a9a" stroke-width="0.4"/>
<polygon points="647.0,749.2 654.0,752.5 654.0,794.5 647.0,791.2" fill="#6B3408" stroke="#1c1408" stroke-width="0.7" stroke-linejoin="round"/>
<polygon points="654.0,752.5 867.5,541.9 867.5,583.9 654.0,794.5" fill="#E37706" stroke="#1c1408" stroke-width="0.7" stroke-linejoin="round"/>
<polygon points="647.0,749.2 860.5,538.6 867.5,541.9 654.0,752.5" fill="#F8960A" stroke="#1c1408" stroke-width="0.7" stroke-linejoin="round"/>
<polygon points="646.2,791.0 654.0,795.0 868.3,583.7 868.3,585.4 654.0,796.7 646.2,792.7" fill="#A8A8A8" stroke="#2a2a2a" stroke-width="0.45" stroke-linejoin="round"/>
<polygon points="848.0,562.4 908.0,591.5 908.0,632.5 848.0,603.4" fill="#6B3408" stroke="#1c1408" stroke-width="0.7" stroke-linejoin="round"/>
<polygon points="908.0,591.5 918.6,580.7 918.6,621.7 908.0,632.5" fill="#E37706" stroke="#1c1408" stroke-width="0.7" stroke-linejoin="round"/>
<polygon points="848.0,562.4 858.6,551.6 918.6,580.7 908.0,591.5" fill="#F8960A" stroke="#1c1408" stroke-width="0.7" stroke-linejoin="round"/>
<polygon points="847.2,603.2 908.0,633.0 919.4,621.5 919.4,623.2 908.0,634.7 847.2,604.9" fill="#A8A8A8" stroke="#2a2a2a" stroke-width="0.45" stroke-linejoin="round"/>
<polygon points="794.0,615.4 854.0,644.5 854.0,685.5 794.0,656.4" fill="#6B3408" stroke="#1c1408" stroke-width="0.7" stroke-linejoin="round"/>
<polygon points="854.0,644.5 866.5,631.8 866.5,672.8 854.0,685.5" fill="#E37706" stroke="#1c1408" stroke-width="0.7" stroke-linejoin="round"/>
<polygon points="794.0,615.4 806.5,602.7 866.5,631.8 854.0,644.5" fill="#F8960A" stroke="#1c1408" stroke-width="0.7" stroke-linejoin="round"/>
<polygon points="793.2,656.2 854.0,685.9 867.3,672.6 867.3,674.3 854.0,687.6 793.2,657.9" fill="#A8A8A8" stroke="#2a2a2a" stroke-width="0.45" stroke-linejoin="round"/>
<path d="M585.0 770.0 L585.0 809.2 A15.0 6.3 0 0 0 615.0 809.2 L615.0 770.0Z" fill="url(#gpile)" stroke="#222" stroke-width="0.4"/>
<path d="M544.8 785.0 L544.8 836.1 A14.0 5.9 0 0 0 572.8 836.1 L572.8 785.0Z" fill="url(#gpile)" stroke="#222" stroke-width="0.4"/>
<polygon points="522.5,732.5 568.8,753.8 568.8,806.2 522.5,785.0" fill="#4F4F4F" stroke="#1c1408" stroke-width="0.7" stroke-linejoin="round"/>
<polygon points="568.8,753.8 636.2,692.5 636.2,745.0 568.8,806.2" fill="#B0B0B0" stroke="#1c1408" stroke-width="0.7" stroke-linejoin="round"/>
<polygon points="522.5,732.5 590.0,671.2 636.2,692.5 568.8,753.8" fill="#E8E8E8" stroke="#1c1408" stroke-width="0.7" stroke-linejoin="round"/>
<polygon points="520.9,784.7 568.8,807.2 637.9,744.7 637.9,747.3 568.8,809.8 520.9,787.3" fill="#DCDCDC" stroke="#2a2a2a" stroke-width="0.45" stroke-linejoin="round"/>
<polygon points="309.8,729.1 457.8,800.2 457.8,847.7 309.8,776.6" fill="#6B3408" stroke="#1c1408" stroke-width="0.7" stroke-linejoin="round"/>
<polygon points="457.8,800.2 462.2,796.0 462.2,843.5 457.8,847.7" fill="#E37706" stroke="#1c1408" stroke-width="0.7" stroke-linejoin="round"/>
<polygon points="309.8,729.1 314.2,724.9 462.2,796.0 457.8,800.2" fill="#F8960A" stroke="#1c1408" stroke-width="0.7" stroke-linejoin="round"/>
<polygon points="308.9,776.4 457.8,848.2 463.1,843.3 463.1,845.0 457.8,849.9 308.9,778.1" fill="#A8A8A8" stroke="#2a2a2a" stroke-width="0.45" stroke-linejoin="round"/>
<polygon points="726.0,767.0 735.0,771.2 735.0,819.2 726.0,815.0" fill="#6B3408" stroke="#1c1408" stroke-width="0.7" stroke-linejoin="round"/>
<polygon points="735.0,771.2 950.6,564.4 950.6,612.4 735.0,819.2" fill="#E37706" stroke="#1c1408" stroke-width="0.7" stroke-linejoin="round"/>
<polygon points="726.0,767.0 941.6,560.2 950.6,564.4 735.0,771.2" fill="#F8960A" stroke="#1c1408" stroke-width="0.7" stroke-linejoin="round"/>
<polygon points="725.2,814.8 735.0,819.7 951.4,612.2 951.4,613.9 735.0,821.4 725.2,816.5" fill="#A8A8A8" stroke="#2a2a2a" stroke-width="0.45" stroke-linejoin="round"/>
<polygon points="555.0,666.7 582.5,680.0 582.5,727.5 555.0,714.2" fill="#68640F" stroke="#1c1408" stroke-width="0.7" stroke-linejoin="round"/>
<polygon points="582.5,680.0 602.5,660.4 602.5,707.9 582.5,727.5" fill="#D4C815" stroke="#1c1408" stroke-width="0.7" stroke-linejoin="round"/>
<polygon points="555.0,666.7 575.0,647.1 602.5,660.4 582.5,680.0" fill="#EEEEEE" stroke="#1c1408" stroke-width="0.7" stroke-linejoin="round"/>
<line x1="562.6" y1="659.2" x2="590.1" y2="672.6" stroke="#9a9a9a" stroke-width="0.4"/>
<line x1="568.2" y1="653.7" x2="595.7" y2="667.1" stroke="#9a9a9a" stroke-width="0.4"/>
<polygon points="499.4,789.3 513.8,796.2 513.8,837.2 499.4,830.3" fill="#6B3408" stroke="#1c1408" stroke-width="0.7" stroke-linejoin="round"/>
<polygon points="513.8,796.2 553.8,757.4 553.8,798.4 513.8,837.2" fill="#E37706" stroke="#1c1408" stroke-width="0.7" stroke-linejoin="round"/>
<polygon points="499.4,789.3 539.4,750.4 553.8,757.4 513.8,796.2" fill="#F8960A" stroke="#1c1408" stroke-width="0.7" stroke-linejoin="round"/>
<polygon points="498.6,830.1 513.8,837.7 554.5,798.2 554.5,799.9 513.8,839.4 498.6,831.8" fill="#A8A8A8" stroke="#2a2a2a" stroke-width="0.45" stroke-linejoin="round"/>
<polygon points="594.2,735.9 683.2,779.1 683.2,820.1 594.2,776.9" fill="#6B3408" stroke="#1c1408" stroke-width="0.7" stroke-linejoin="round"/>
<polygon points="683.2,779.1 692.2,770.2 692.2,811.2 683.2,820.1" fill="#E37706" stroke="#1c1408" stroke-width="0.7" stroke-linejoin="round"/>
<polygon points="594.2,735.9 603.2,727.0 692.2,770.2 683.2,779.1" fill="#F8960A" stroke="#1c1408" stroke-width="0.7" stroke-linejoin="round"/>
<polygon points="593.5,776.8 683.2,820.6 693.0,811.0 693.0,812.7 683.2,822.3 593.5,778.5" fill="#A8A8A8" stroke="#2a2a2a" stroke-width="0.45" stroke-linejoin="round"/>
<polygon points="460.0,802.8 496.0,820.3 496.0,874.3 460.0,856.8" fill="#4F4F4F" stroke="#1c1408" stroke-width="0.7" stroke-linejoin="round"/>
<polygon points="496.0,820.3 520.0,797.0 520.0,851.0 496.0,874.3" fill="#B0B0B0" stroke="#1c1408" stroke-width="0.7" stroke-linejoin="round"/>
<polygon points="460.0,802.8 484.0,779.6 520.0,797.0 496.0,820.3" fill="#E8E8E8" stroke="#1c1408" stroke-width="0.7" stroke-linejoin="round"/>
<polygon points="458.4,856.5 496.0,875.3 521.6,850.7 521.6,853.3 496.0,877.9 458.4,859.1" fill="#DCDCDC" stroke="#2a2a2a" stroke-width="0.45" stroke-linejoin="round"/>
<path d="M476.5 870.0 L476.5 917.2 A11.5 4.8 0 0 0 499.5 917.2 L499.5 870.0Z" fill="url(#gpile)" stroke="#222" stroke-width="0.4"/>
<polygon points="682.3,776.0 713.3,791.0 713.3,848.0 682.3,833.0" fill="#4F4F4F" stroke="#1c1408" stroke-width="0.7" stroke-linejoin="round"/>
<polygon points="713.3,791.0 735.3,769.1 735.3,826.1 713.3,848.0" fill="#B0B0B0" stroke="#1c1408" stroke-width="0.7" stroke-linejoin="round"/>
<polygon points="682.3,776.0 704.3,754.1 735.3,769.1 713.3,791.0" fill="#E8E8E8" stroke="#1c1408" stroke-width="0.7" stroke-linejoin="round"/>
<polygon points="680.7,832.6 713.3,849.0 736.9,825.8 736.9,828.4 713.3,851.6 680.7,835.2" fill="#DCDCDC" stroke="#2a2a2a" stroke-width="0.45" stroke-linejoin="round"/>
<polygon points="462.5,759.2 490.0,772.5 490.0,817.5 462.5,804.2" fill="#68640F" stroke="#1c1408" stroke-width="0.7" stroke-linejoin="round"/>
<polygon points="490.0,772.5 495.5,767.2 495.5,812.2 490.0,817.5" fill="#D4C815" stroke="#1c1408" stroke-width="0.7" stroke-linejoin="round"/>
<polygon points="462.5,759.2 468.0,753.8 495.5,767.2 490.0,772.5" fill="#EEEEEE" stroke="#1c1408" stroke-width="0.7" stroke-linejoin="round"/>
<line x1="464.6" y1="757.1" x2="492.1" y2="770.5" stroke="#9a9a9a" stroke-width="0.4"/>
<line x1="466.1" y1="755.6" x2="493.6" y2="769.0" stroke="#9a9a9a" stroke-width="0.4"/>
<defs><linearGradient id="gcw" gradientUnits="userSpaceOnUse" x1="500" y1="0" x2="712" y2="0"><stop offset="0" stop-color="#6B3408"/><stop offset="0.35" stop-color="#6E360A"/><stop offset="0.75" stop-color="#D06D08"/><stop offset="1" stop-color="#E37706"/></linearGradient></defs><path d="M495.0 817.5 C500.8 820.2 515.8 829.7 530.0 833.8 C544.2 837.8 565.0 841.0 580.0 842.0 C595.0 843.0 605.4 843.2 620.0 840.0 C634.6 836.8 653.3 830.0 667.5 822.5 C681.7 815.0 697.7 800.6 705.0 795.0 C712.3 789.4 710.2 789.8 711.2 788.8 L711.2 850.0 C710.2 850.8 712.3 850.3 705.0 855.0 C697.7 859.7 681.7 871.5 667.5 878.0 C653.3 884.5 634.6 890.8 620.0 893.8 C605.4 896.7 595.0 896.5 580.0 895.5 C565.0 894.5 544.2 890.9 530.0 887.5 C515.8 884.1 500.8 877.1 495.0 875.0 Z" fill="url(#gcw)" stroke="#1c1408" stroke-width="0.7" stroke-linejoin="round"/><path d="M495.0 817.5 C500.8 820.2 515.8 829.7 530.0 833.8 C544.2 837.8 565.0 841.0 580.0 842.0 C595.0 843.0 605.4 843.2 620.0 840.0 C634.6 836.8 653.3 830.0 667.5 822.5 C681.7 815.0 697.7 800.6 705.0 795.0 C712.3 789.4 710.2 789.8 711.2 788.8 L711.2 783.8 C710.2 784.7 712.7 784.1 705.0 789.5 C697.3 794.9 679.2 808.9 665.0 816.2 C650.8 823.6 634.2 830.4 620.0 833.8 C605.8 837.1 595.6 837.5 580.0 836.2 C564.4 835.0 540.4 830.0 526.2 826.2 C512.1 822.5 500.2 815.8 495.0 813.8 Z" fill="#F8960A" stroke="#1c1408" stroke-width="0.7" stroke-linejoin="round"/>
<path d="M696.0 845.0 L696.0 892.7 A11.5 4.8 0 0 0 719.0 892.7 L719.0 845.0Z" fill="url(#gpile)" stroke="#222" stroke-width="0.4"/>
<polygon points="706.0,742.7 713.3,746.2 713.3,791.0 706.0,787.5" fill="#68640F" stroke="#1c1408" stroke-width="0.7" stroke-linejoin="round"/>
<polygon points="713.3,746.2 733.7,725.9 733.7,770.7 713.3,791.0" fill="#D4C815" stroke="#1c1408" stroke-width="0.7" stroke-linejoin="round"/>
<polygon points="706.0,742.7 726.4,722.4 733.7,725.9 713.3,746.2" fill="#EEEEEE" stroke="#1c1408" stroke-width="0.7" stroke-linejoin="round"/>
<line x1="708.8" y1="744.1" x2="729.2" y2="723.8" stroke="#9a9a9a" stroke-width="0.4"/>
<line x1="710.8" y1="745.0" x2="731.2" y2="724.7" stroke="#9a9a9a" stroke-width="0.4"/></g>
<g id="caps"><polygon points="1512.7,242.9 1530.0,255.8 1577.3,231.2 1575.5,228.5 1530.0,250.2 1514.5,240.2" fill="#3a2f2c"/>
<polygon points="1514.5,211.2 1530.0,221.2 1530.0,253.2 1514.5,243.2" fill="#9FA28C" stroke="#2b2b26" stroke-width="0.7" stroke-linejoin="round"/>
<polygon points="1530.0,221.2 1575.5,199.5 1575.5,231.5 1530.0,253.2" fill="#A4A891" stroke="#2b2b26" stroke-width="0.7" stroke-linejoin="round"/>
<polygon points="1514.5,211.2 1560.0,189.5 1575.5,199.5 1530.0,221.2" fill="#A9AD95" stroke="#2b2b26" stroke-width="0.7" stroke-linejoin="round"/>
<polygon points="1567.0,277.9 1636.2,325.9 1689.8,299.2 1688.0,296.5 1636.2,320.2 1568.8,275.2" fill="#3a2f2c"/>
<polygon points="1568.8,246.2 1636.2,291.2 1636.2,323.2 1568.8,278.2" fill="#9FA28C" stroke="#2b2b26" stroke-width="0.7" stroke-linejoin="round"/>
<polygon points="1636.2,291.2 1688.0,267.5 1688.0,299.5 1636.2,323.2" fill="#A4A891" stroke="#2b2b26" stroke-width="0.7" stroke-linejoin="round"/>
<polygon points="1568.8,246.2 1620.5,222.5 1688.0,267.5 1636.2,291.2" fill="#A9AD95" stroke="#2b2b26" stroke-width="0.7" stroke-linejoin="round"/>
<polygon points="1405.2,293.7 1422.5,307.1 1470.0,282.4 1468.2,279.8 1422.5,301.5 1407.0,291.0" fill="#3a2f2c"/>
<polygon points="1407.0,262.0 1422.5,272.5 1422.5,304.5 1407.0,294.0" fill="#9FA28C" stroke="#2b2b26" stroke-width="0.7" stroke-linejoin="round"/>
<polygon points="1422.5,272.5 1468.2,250.8 1468.2,282.8 1422.5,304.5" fill="#A4A891" stroke="#2b2b26" stroke-width="0.7" stroke-linejoin="round"/>
<polygon points="1407.0,262.0 1452.8,240.2 1468.2,250.8 1422.5,272.5" fill="#A9AD95" stroke="#2b2b26" stroke-width="0.7" stroke-linejoin="round"/>
<polygon points="1373.2,309.7 1388.0,322.6 1404.8,312.4 1403.0,309.8 1388.0,317.0 1375.0,307.0" fill="#3a2f2c"/>
<polygon points="1375.0,278.0 1388.0,288.0 1388.0,320.0 1375.0,310.0" fill="#9FA28C" stroke="#2b2b26" stroke-width="0.7" stroke-linejoin="round"/>
<polygon points="1388.0,288.0 1403.0,280.8 1403.0,312.8 1388.0,320.0" fill="#A4A891" stroke="#2b2b26" stroke-width="0.7" stroke-linejoin="round"/>
<polygon points="1375.0,278.0 1390.0,270.8 1403.0,280.8 1388.0,288.0" fill="#A9AD95" stroke="#2b2b26" stroke-width="0.7" stroke-linejoin="round"/>
<polygon points="1449.0,317.9 1463.8,330.1 1480.8,319.7 1479.0,317.0 1463.8,324.5 1450.8,315.2" fill="#3a2f2c"/>
<polygon points="1450.8,286.2 1463.8,295.5 1463.8,327.5 1450.8,318.2" fill="#9FA28C" stroke="#2b2b26" stroke-width="0.7" stroke-linejoin="round"/>
<polygon points="1463.8,295.5 1479.0,288.0 1479.0,320.0 1463.8,327.5" fill="#A4A891" stroke="#2b2b26" stroke-width="0.7" stroke-linejoin="round"/>
<polygon points="1450.8,286.2 1466.0,278.8 1479.0,288.0 1463.8,295.5" fill="#A9AD95" stroke="#2b2b26" stroke-width="0.7" stroke-linejoin="round"/>
<polygon points="1685.7,352.9 1727.0,380.9 1774.3,356.2 1772.5,353.5 1727.0,375.2 1687.5,350.2" fill="#3a2f2c"/>
<polygon points="1687.5,321.2 1727.0,346.2 1727.0,378.2 1687.5,353.2" fill="#9FA28C" stroke="#2b2b26" stroke-width="0.7" stroke-linejoin="round"/>
<polygon points="1727.0,346.2 1772.5,324.5 1772.5,356.5 1727.0,378.2" fill="#A4A891" stroke="#2b2b26" stroke-width="0.7" stroke-linejoin="round"/>
<polygon points="1687.5,321.2 1733.0,299.5 1772.5,324.5 1727.0,346.2" fill="#A9AD95" stroke="#2b2b26" stroke-width="0.7" stroke-linejoin="round"/>
<polygon points="1481.2,377.5 1505.0,366.2 1513.0,371.5 1483.0,386.5" fill="#C6BEB7" stroke="#6b6560" stroke-width="0.5"/>
<polygon points="1488.7,354.2 1530.0,384.6 1577.3,359.2 1575.5,356.5 1530.0,379.0 1490.5,351.5" fill="#3a2f2c"/>
<polygon points="1490.5,322.5 1530.0,350.0 1530.0,382.0 1490.5,354.5" fill="#9FA28C" stroke="#2b2b26" stroke-width="0.7" stroke-linejoin="round"/>
<polygon points="1530.0,350.0 1575.5,327.5 1575.5,359.5 1530.0,382.0" fill="#A4A891" stroke="#2b2b26" stroke-width="0.7" stroke-linejoin="round"/>
<polygon points="1490.5,322.5 1536.0,300.0 1575.5,327.5 1530.0,350.0" fill="#A9AD95" stroke="#2b2b26" stroke-width="0.7" stroke-linejoin="round"/>
<polygon points="1450.0,387.9 1465.0,400.1 1481.8,389.7 1480.0,387.0 1465.0,394.5 1451.8,385.2" fill="#3a2f2c"/>
<polygon points="1451.8,356.2 1465.0,365.5 1465.0,397.5 1451.8,388.2" fill="#9FA28C" stroke="#2b2b26" stroke-width="0.7" stroke-linejoin="round"/>
<polygon points="1465.0,365.5 1480.0,358.0 1480.0,390.0 1465.0,397.5" fill="#A4A891" stroke="#2b2b26" stroke-width="0.7" stroke-linejoin="round"/>
<polygon points="1451.8,356.2 1466.8,348.8 1480.0,358.0 1465.0,365.5" fill="#A9AD95" stroke="#2b2b26" stroke-width="0.7" stroke-linejoin="round"/>
<polygon points="1570.7,411.7 1591.2,428.4 1639.3,403.7 1637.5,401.0 1591.2,422.8 1572.5,409.0" fill="#3a2f2c"/>
<polygon points="1572.5,380.0 1591.2,393.8 1591.2,425.8 1572.5,412.0" fill="#9FA28C" stroke="#2b2b26" stroke-width="0.7" stroke-linejoin="round"/>
<polygon points="1591.2,393.8 1637.5,372.0 1637.5,404.0 1591.2,425.8" fill="#A4A891" stroke="#2b2b26" stroke-width="0.7" stroke-linejoin="round"/>
<polygon points="1572.5,380.0 1618.8,358.2 1637.5,372.0 1591.2,393.8" fill="#A9AD95" stroke="#2b2b26" stroke-width="0.7" stroke-linejoin="round"/>
<polygon points="1525.7,436.7 1541.2,449.1 1558.0,438.7 1556.2,436.0 1541.2,443.5 1527.5,434.0" fill="#3a2f2c"/>
<polygon points="1527.5,405.0 1541.2,414.5 1541.2,446.5 1527.5,437.0" fill="#9FA28C" stroke="#2b2b26" stroke-width="0.7" stroke-linejoin="round"/>
<polygon points="1541.2,414.5 1556.2,407.0 1556.2,439.0 1541.2,446.5" fill="#A4A891" stroke="#2b2b26" stroke-width="0.7" stroke-linejoin="round"/>
<polygon points="1527.5,405.0 1542.5,397.5 1556.2,407.0 1541.2,414.5" fill="#A9AD95" stroke="#2b2b26" stroke-width="0.7" stroke-linejoin="round"/>
<polygon points="1642.0,441.7 1657.5,454.1 1674.3,443.7 1672.5,441.0 1657.5,448.5 1643.8,439.0" fill="#3a2f2c"/>
<polygon points="1643.8,410.0 1657.5,419.5 1657.5,451.5 1643.8,442.0" fill="#9FA28C" stroke="#2b2b26" stroke-width="0.7" stroke-linejoin="round"/>
<polygon points="1657.5,419.5 1672.5,412.0 1672.5,444.0 1657.5,451.5" fill="#A4A891" stroke="#2b2b26" stroke-width="0.7" stroke-linejoin="round"/>
<polygon points="1643.8,410.0 1658.8,402.5 1672.5,412.0 1657.5,419.5" fill="#A9AD95" stroke="#2b2b26" stroke-width="0.7" stroke-linejoin="round"/></g>
<g id="piles"><defs><linearGradient id="gp" x1="0" y1="0" x2="1" y2="0"><stop offset="0" stop-color="#8F918B"/><stop offset="0.18" stop-color="#B4B6AE"/><stop offset="0.55" stop-color="#CDCEC3"/><stop offset="0.85" stop-color="#BDBEB3"/><stop offset="1" stop-color="#9A9B93"/></linearGradient></defs>
<path d="M1569.1 555.7 L1569.1 727.7 A6.5 3.6 0 0 0 1582.1 727.7 L1582.1 555.7 Z" fill="url(#gp)" stroke="#2e2e2c" stroke-width="0.6"/>
<ellipse cx="1575.6" cy="555.7" rx="6.5" ry="3.6" fill="#D9D9CE" stroke="#2e2e2c" stroke-width="0.6"/>
<ellipse cx="1575.6" cy="555.7" rx="1.4" ry="1.1" fill="#55554f"/>
<path d="M1545.5 567.4 L1545.5 739.4 A6.2 3.4 0 0 0 1557.9 739.4 L1557.9 567.4 Z" fill="url(#gp)" stroke="#2e2e2c" stroke-width="0.6"/>
<ellipse cx="1551.7" cy="567.4" rx="6.2" ry="3.4" fill="#D9D9CE" stroke="#2e2e2c" stroke-width="0.6"/>
<ellipse cx="1551.7" cy="567.4" rx="1.4" ry="1.0" fill="#55554f"/>
<path d="M1618.3 586.3 L1618.3 758.3 A6.5 3.6 0 0 0 1631.3 758.3 L1631.3 586.3 Z" fill="url(#gp)" stroke="#2e2e2c" stroke-width="0.6"/>
<ellipse cx="1624.8" cy="586.3" rx="6.5" ry="3.6" fill="#D9D9CE" stroke="#2e2e2c" stroke-width="0.6"/>
<ellipse cx="1624.8" cy="586.3" rx="1.4" ry="1.1" fill="#55554f"/>
<path d="M1477.0 599.6 L1477.0 771.6 A6.3 3.5 0 0 0 1489.6 771.6 L1489.6 599.6 Z" fill="url(#gp)" stroke="#2e2e2c" stroke-width="0.6"/>
<ellipse cx="1483.3" cy="599.6" rx="6.3" ry="3.5" fill="#D9D9CE" stroke="#2e2e2c" stroke-width="0.6"/>
<ellipse cx="1483.3" cy="599.6" rx="1.4" ry="1.0" fill="#55554f"/>
<path d="M1589.7 600.2 L1589.7 772.2 A6.3 3.5 0 0 0 1602.3 772.2 L1602.3 600.2 Z" fill="url(#gp)" stroke="#2e2e2c" stroke-width="0.6"/>
<ellipse cx="1596.0" cy="600.2" rx="6.3" ry="3.5" fill="#D9D9CE" stroke="#2e2e2c" stroke-width="0.6"/>
<ellipse cx="1596.0" cy="600.2" rx="1.4" ry="1.0" fill="#55554f"/>
<path d="M1625.5 608.9 L1625.5 780.9 A6.2 3.4 0 0 0 1637.9 780.9 L1637.9 608.9 Z" fill="url(#gp)" stroke="#2e2e2c" stroke-width="0.6"/>
<ellipse cx="1631.7" cy="608.9" rx="6.2" ry="3.4" fill="#D9D9CE" stroke="#2e2e2c" stroke-width="0.6"/>
<ellipse cx="1631.7" cy="608.9" rx="1.4" ry="1.0" fill="#55554f"/>
<path d="M1452.7 611.3 L1452.7 783.3 A6.4 3.5 0 0 0 1465.5 783.3 L1465.5 611.3 Z" fill="url(#gp)" stroke="#2e2e2c" stroke-width="0.6"/>
<ellipse cx="1459.1" cy="611.3" rx="6.4" ry="3.5" fill="#D9D9CE" stroke="#2e2e2c" stroke-width="0.6"/>
<ellipse cx="1459.1" cy="611.3" rx="1.4" ry="1.1" fill="#55554f"/>
<path d="M1660.5 616.9 L1660.5 788.9 A6.5 3.6 0 0 0 1673.5 788.9 L1673.5 616.9 Z" fill="url(#gp)" stroke="#2e2e2c" stroke-width="0.6"/>
<ellipse cx="1667.0" cy="616.9" rx="6.5" ry="3.6" fill="#D9D9CE" stroke="#2e2e2c" stroke-width="0.6"/>
<ellipse cx="1667.0" cy="616.9" rx="1.4" ry="1.1" fill="#55554f"/>
<path d="M1425.2 625.2 L1425.2 797.2 A5.2 2.9 0 0 0 1435.6 797.2 L1435.6 625.2 Z" fill="url(#gp)" stroke="#2e2e2c" stroke-width="0.6"/>
<ellipse cx="1430.4" cy="625.2" rx="5.2" ry="2.9" fill="#D9D9CE" stroke="#2e2e2c" stroke-width="0.6"/>
<ellipse cx="1430.4" cy="625.2" rx="1.1" ry="0.9" fill="#55554f"/>
<path d="M1632.0 630.7 L1632.0 802.7 A6.3 3.5 0 0 0 1644.6 802.7 L1644.6 630.7 Z" fill="url(#gp)" stroke="#2e2e2c" stroke-width="0.6"/>
<ellipse cx="1638.3" cy="630.7" rx="6.3" ry="3.5" fill="#D9D9CE" stroke="#2e2e2c" stroke-width="0.6"/>
<ellipse cx="1638.3" cy="630.7" rx="1.4" ry="1.0" fill="#55554f"/>
<path d="M1488.1 631.7 L1488.1 803.7 A5.2 2.9 0 0 0 1498.5 803.7 L1498.5 631.7 Z" fill="url(#gp)" stroke="#2e2e2c" stroke-width="0.6"/>
<ellipse cx="1493.3" cy="631.7" rx="5.2" ry="2.9" fill="#D9D9CE" stroke="#2e2e2c" stroke-width="0.6"/>
<ellipse cx="1493.3" cy="631.7" rx="1.1" ry="0.9" fill="#55554f"/>
<path d="M1555.1 661.7 L1555.1 833.7 A6.2 3.4 0 0 0 1567.5 833.7 L1567.5 661.7 Z" fill="url(#gp)" stroke="#2e2e2c" stroke-width="0.6"/>
<ellipse cx="1561.3" cy="661.7" rx="6.2" ry="3.4" fill="#D9D9CE" stroke="#2e2e2c" stroke-width="0.6"/>
<ellipse cx="1561.3" cy="661.7" rx="1.4" ry="1.0" fill="#55554f"/>
<path d="M1720.5 662.2 L1720.5 834.2 A6.4 3.5 0 0 0 1733.3 834.2 L1733.3 662.2 Z" fill="url(#gp)" stroke="#2e2e2c" stroke-width="0.6"/>
<ellipse cx="1726.9" cy="662.2" rx="6.4" ry="3.5" fill="#D9D9CE" stroke="#2e2e2c" stroke-width="0.6"/>
<ellipse cx="1726.9" cy="662.2" rx="1.4" ry="1.1" fill="#55554f"/>
<path d="M1520.8 666.5 L1520.8 838.5 A6.2 3.4 0 0 0 1533.2 838.5 L1533.2 666.5 Z" fill="url(#gp)" stroke="#2e2e2c" stroke-width="0.6"/>
<ellipse cx="1527.0" cy="666.5" rx="6.2" ry="3.4" fill="#D9D9CE" stroke="#2e2e2c" stroke-width="0.6"/>
<ellipse cx="1527.0" cy="666.5" rx="1.4" ry="1.0" fill="#55554f"/>
<path d="M1686.3 666.9 L1686.3 838.9 A6.5 3.6 0 0 0 1699.3 838.9 L1699.3 666.9 Z" fill="url(#gp)" stroke="#2e2e2c" stroke-width="0.6"/>
<ellipse cx="1692.8" cy="666.9" rx="6.5" ry="3.6" fill="#D9D9CE" stroke="#2e2e2c" stroke-width="0.6"/>
<ellipse cx="1692.8" cy="666.9" rx="1.4" ry="1.1" fill="#55554f"/>
<path d="M1540.6 680.7 L1540.6 852.7 A6.1 3.4 0 0 0 1552.8 852.7 L1552.8 680.7 Z" fill="url(#gp)" stroke="#2e2e2c" stroke-width="0.6"/>
<ellipse cx="1546.7" cy="680.7" rx="6.1" ry="3.4" fill="#D9D9CE" stroke="#2e2e2c" stroke-width="0.6"/>
<ellipse cx="1546.7" cy="680.7" rx="1.3" ry="1.0" fill="#55554f"/>
<path d="M1705.9 681.1 L1705.9 853.1 A6.3 3.5 0 0 0 1718.5 853.1 L1718.5 681.1 Z" fill="url(#gp)" stroke="#2e2e2c" stroke-width="0.6"/>
<ellipse cx="1712.2" cy="681.1" rx="6.3" ry="3.5" fill="#D9D9CE" stroke="#2e2e2c" stroke-width="0.6"/>
<ellipse cx="1712.2" cy="681.1" rx="1.4" ry="1.0" fill="#55554f"/>
<path d="M1486.5 697.8 L1486.5 869.8 A5.0 2.8 0 0 0 1496.5 869.8 L1496.5 697.8 Z" fill="url(#gp)" stroke="#2e2e2c" stroke-width="0.6"/>
<ellipse cx="1491.5" cy="697.8" rx="5.0" ry="2.8" fill="#D9D9CE" stroke="#2e2e2c" stroke-width="0.6"/>
<ellipse cx="1491.5" cy="697.8" rx="1.1" ry="0.8" fill="#55554f"/>
<path d="M1612.5 708.5 L1612.5 880.5 A6.2 3.4 0 0 0 1624.9 880.5 L1624.9 708.5 Z" fill="url(#gp)" stroke="#2e2e2c" stroke-width="0.6"/>
<ellipse cx="1618.7" cy="708.5" rx="6.2" ry="3.4" fill="#D9D9CE" stroke="#2e2e2c" stroke-width="0.6"/>
<ellipse cx="1618.7" cy="708.5" rx="1.4" ry="1.0" fill="#55554f"/>
<path d="M1588.4 720.0 L1588.4 892.0 A6.2 3.4 0 0 0 1600.8 892.0 L1600.8 720.0 Z" fill="url(#gp)" stroke="#2e2e2c" stroke-width="0.6"/>
<ellipse cx="1594.6" cy="720.0" rx="6.2" ry="3.4" fill="#D9D9CE" stroke="#2e2e2c" stroke-width="0.6"/>
<ellipse cx="1594.6" cy="720.0" rx="1.4" ry="1.0" fill="#55554f"/>
<path d="M1547.5 740.0 L1547.5 912.0 A5.3 2.9 0 0 0 1558.1 912.0 L1558.1 740.0 Z" fill="url(#gp)" stroke="#2e2e2c" stroke-width="0.6"/>
<ellipse cx="1552.8" cy="740.0" rx="5.3" ry="2.9" fill="#D9D9CE" stroke="#2e2e2c" stroke-width="0.6"/>
<ellipse cx="1552.8" cy="740.0" rx="1.2" ry="0.9" fill="#55554f"/>
<path d="M1645.0 746.4 L1645.0 918.4 A5.3 2.9 0 0 0 1655.6 918.4 L1655.6 746.4 Z" fill="url(#gp)" stroke="#2e2e2c" stroke-width="0.6"/>
<ellipse cx="1650.3" cy="746.4" rx="5.3" ry="2.9" fill="#D9D9CE" stroke="#2e2e2c" stroke-width="0.6"/>
<ellipse cx="1650.3" cy="746.4" rx="1.2" ry="0.9" fill="#55554f"/></g>
<defs><linearGradient id="ga1" gradientUnits="userSpaceOnUse" x1="990" y1="440" x2="1280" y2="320"><stop offset="0" stop-color="#CC1417"/><stop offset="1" stop-color="#FF361A"/></linearGradient></defs>
<path d="M982.0 464.0 C984.3 458.7 990.5 442.2 996.0 432.0 C1001.5 421.8 1005.6 416.2 1015.0 402.5 C1024.4 388.8 1040.0 363.8 1052.5 350.0 C1065.0 336.2 1075.4 327.9 1090.0 320.0 C1104.6 312.1 1121.5 306.2 1140.0 302.5 C1158.5 298.8 1190.8 298.3 1201.0 297.5 L1202.5 268 L1283.8 333 L1197 390 L1198.5 358.5 C1188.8 358.8 1158.1 358.1 1140.0 360.0 C1121.9 361.9 1106.7 363.8 1090.0 370.0 C1073.3 376.2 1054.6 386.7 1040.0 397.5 C1025.4 408.3 1012.2 423.9 1002.5 435.0 C992.8 446.1 985.4 459.2 982.0 464.0 Z" fill="url(#ga1)"/>
<g><clipPath id="cpa"><rect x="940" y="205" width="42" height="100"/></clipPath><g clip-path="url(#cpa)"><defs><radialGradient id="gvc" cx="990" cy="247" r="22" gradientUnits="userSpaceOnUse"><stop offset="0" stop-color="#E4E4E4"/><stop offset="1" stop-color="#ffffff"/></radialGradient></defs><circle cx="990" cy="247" r="22" fill="url(#gvc)"/><path d="M984 213.5 L966.5 214 Q936.5 247 971.5 288.5 L984 298 L984 274.5 Q954 247 984 219.5 Z" fill="#F3F3F3" stroke="#B5B5B5" stroke-width="0.7" stroke-dasharray="1.6 0.9"/><ellipse cx="977" cy="290.5" rx="6" ry="5" fill="#E6E6E6" stroke="#B0B0B0" stroke-width="0.6"/><ellipse cx="974" cy="217" rx="7" ry="3.2" fill="#E9E9E9" stroke="#B8B8B8" stroke-width="0.6" transform="rotate(-30 974 217)"/></g></g>
<path d="M1010.5 702.0 C1012.3 705.4 1017.6 715.3 1021.2 722.5 C1024.9 729.7 1027.7 735.4 1032.5 745.0 C1037.3 754.6 1042.9 769.6 1050.0 780.0 C1057.1 790.4 1065.8 800.4 1075.0 807.5 C1084.2 814.6 1093.1 819.2 1105.0 822.5 C1116.9 825.8 1139.4 826.7 1146.2 827.5 L1150.0 786.2 Q1200.0 830.0 1254.5 858.8 L1126.2 926.2 L1137.5 887.5 C1127.9 885.8 1096.2 882.9 1080.0 877.5 C1063.8 872.1 1050.8 864.6 1040.0 855.0 C1029.2 845.4 1020.6 832.5 1015.0 820.0 C1009.4 807.5 1007.7 792.9 1006.2 780.0 C1004.8 767.1 1005.8 755.5 1006.5 742.5 C1007.2 729.5 1009.8 708.8 1010.5 702.0 Z" fill="#120A0A" transform="translate(0.5 13)"/>
<path d="M1010.5 702.0 C1012.3 705.4 1017.6 715.3 1021.2 722.5 C1024.9 729.7 1027.7 735.4 1032.5 745.0 C1037.3 754.6 1042.9 769.6 1050.0 780.0 C1057.1 790.4 1065.8 800.4 1075.0 807.5 C1084.2 814.6 1093.1 819.2 1105.0 822.5 C1116.9 825.8 1139.4 826.7 1146.2 827.5 L1150.0 786.2 Q1200.0 830.0 1254.5 858.8 L1126.2 926.2 L1137.5 887.5 C1127.9 885.8 1096.2 882.9 1080.0 877.5 C1063.8 872.1 1050.8 864.6 1040.0 855.0 C1029.2 845.4 1020.6 832.5 1015.0 820.0 C1009.4 807.5 1007.7 792.9 1006.2 780.0 C1004.8 767.1 1005.8 755.5 1006.5 742.5 C1007.2 729.5 1009.8 708.8 1010.5 702.0 Z" fill="#EB1C24"/>
<g><defs><linearGradient id="lg0" gradientUnits="userSpaceOnUse" x1="212" y1="60" x2="178" y2="118"><stop offset="0" stop-color="#E0424A"/><stop offset="1" stop-color="#0B3D91"/></linearGradient></defs><path fill="url(#lg0)" fill-rule="evenodd" d="M164.67 90.55 L182.00 81.29 L182.00 101.39 L180.31 104.40 L182.00 106.80 L182.00 119.44 L164.67 123.05Z M168.52 93.20 L178.15 88.15 L178.15 99.58 L176.34 101.99 L168.52 101.99Z M168.52 105.96 L176.34 105.96 L178.15 108.01 L178.15 116.43 L168.52 118.24Z M185.13 68.65 L202.82 57.81 L202.82 113.66 L197.40 119.44 L185.13 119.44Z M188.98 71.05 L198.85 65.04 L198.85 112.22 L195.60 115.59 L188.98 115.59Z M205.59 77.55 L223.28 86.94 L223.28 123.05 L205.59 119.44Z M209.44 84.29 L219.31 89.35 L219.31 118.00 L216.66 117.64 L216.66 101.99 L212.45 101.99 L212.45 117.03 L209.44 116.43Z "/><path fill="#0B3D91" d="M146.25 133.89 C178.15 118.60 209.44 118.60 240.74 133.89 C209.44 124.62 178.15 124.62 146.25 133.89Z"/><text transform="translate(146.2 156.9) scale(1.27 1)" font-family="'Liberation Sans',sans-serif" font-size="29.8" stroke-width="0.8"><tspan x="0" fill="#D9434B" stroke="#D9434B">V</tspan><tspan x="21.2 43.3" fill="#0B3D91" stroke="#0B3D91">BI</tspan><tspan x="52.2" textLength="26.2" lengthAdjust="spacingAndGlyphs" fill="#0B3D91" stroke="#0B3D91">M</tspan></text></g>
<g opacity="0.095" transform="translate(-990.7 -224.8) scale(7.46)"><defs><linearGradient id="lg1" gradientUnits="userSpaceOnUse" x1="212" y1="60" x2="178" y2="118"><stop offset="0" stop-color="#E0424A"/><stop offset="1" stop-color="#0B3D91"/></linearGradient></defs><path fill="url(#lg1)" fill-rule="evenodd" d="M164.67 90.55 L182.00 81.29 L182.00 101.39 L180.31 104.40 L182.00 106.80 L182.00 119.44 L164.67 123.05Z M168.52 93.20 L178.15 88.15 L178.15 99.58 L176.34 101.99 L168.52 101.99Z M168.52 105.96 L176.34 105.96 L178.15 108.01 L178.15 116.43 L168.52 118.24Z M185.13 68.65 L202.82 57.81 L202.82 113.66 L197.40 119.44 L185.13 119.44Z M188.98 71.05 L198.85 65.04 L198.85 112.22 L195.60 115.59 L188.98 115.59Z M205.59 77.55 L223.28 86.94 L223.28 123.05 L205.59 119.44Z M209.44 84.29 L219.31 89.35 L219.31 118.00 L216.66 117.64 L216.66 101.99 L212.45 101.99 L212.45 117.03 L209.44 116.43Z "/><path fill="#0B3D91" d="M146.25 133.89 C178.15 118.60 209.44 118.60 240.74 133.89 C209.44 124.62 178.15 124.62 146.25 133.89Z"/><text transform="translate(146.2 156.9) scale(1.27 1)" font-family="'Liberation Sans',sans-serif" font-size="29.8" stroke-width="0.8"><tspan x="0" fill="#D9434B" stroke="#D9434B">V</tspan><tspan x="21.2 43.3" fill="#0B3D91" stroke="#0B3D91">BI</tspan><tspan x="52.2" textLength="26.2" lengthAdjust="spacingAndGlyphs" fill="#0B3D91" stroke="#0B3D91">M</tspan></text></g>
<g opacity="0.095" transform="translate(-3.2 -224.8) scale(7.46)"><defs><linearGradient id="lg2" gradientUnits="userSpaceOnUse" x1="212" y1="60" x2="178" y2="118"><stop offset="0" stop-color="#E0424A"/><stop offset="1" stop-color="#0B3D91"/></linearGradient></defs><path fill="url(#lg2)" fill-rule="evenodd" d="M164.67 90.55 L182.00 81.29 L182.00 101.39 L180.31 104.40 L182.00 106.80 L182.00 119.44 L164.67 123.05Z M168.52 93.20 L178.15 88.15 L178.15 99.58 L176.34 101.99 L168.52 101.99Z M168.52 105.96 L176.34 105.96 L178.15 108.01 L178.15 116.43 L168.52 118.24Z M185.13 68.65 L202.82 57.81 L202.82 113.66 L197.40 119.44 L185.13 119.44Z M188.98 71.05 L198.85 65.04 L198.85 112.22 L195.60 115.59 L188.98 115.59Z M205.59 77.55 L223.28 86.94 L223.28 123.05 L205.59 119.44Z M209.44 84.29 L219.31 89.35 L219.31 118.00 L216.66 117.64 L216.66 101.99 L212.45 101.99 L212.45 117.03 L209.44 116.43Z "/><path fill="#0B3D91" d="M146.25 133.89 C178.15 118.60 209.44 118.60 240.74 133.89 C209.44 124.62 178.15 124.62 146.25 133.89Z"/><text transform="translate(146.2 156.9) scale(1.27 1)" font-family="'Liberation Sans',sans-serif" font-size="29.8" stroke-width="0.8"><tspan x="0" fill="#D9434B" stroke="#D9434B">V</tspan><tspan x="21.2 43.3" fill="#0B3D91" stroke="#0B3D91">BI</tspan><tspan x="52.2" textLength="26.2" lengthAdjust="spacingAndGlyphs" fill="#0B3D91" stroke="#0B3D91">M</tspan></text></g>
</svg>
<div class="title"><span>1. DỰNG MÓNG VÀ CỌC (STRUCTURAL FOUNDATION)</span></div>
<div class="lbl" id="l1" style="left:1460.2px;top:479.3px;font-size:23.5px;">MẶT BẰNG ĐÀI MÓNG</div>
<div class="lbl" id="l2" style="left:1480.2px;top:953.8px;font-size:27.8px;">MẶT BẰNG CỌC</div>
<div class="footer"></div>
</body></html>
